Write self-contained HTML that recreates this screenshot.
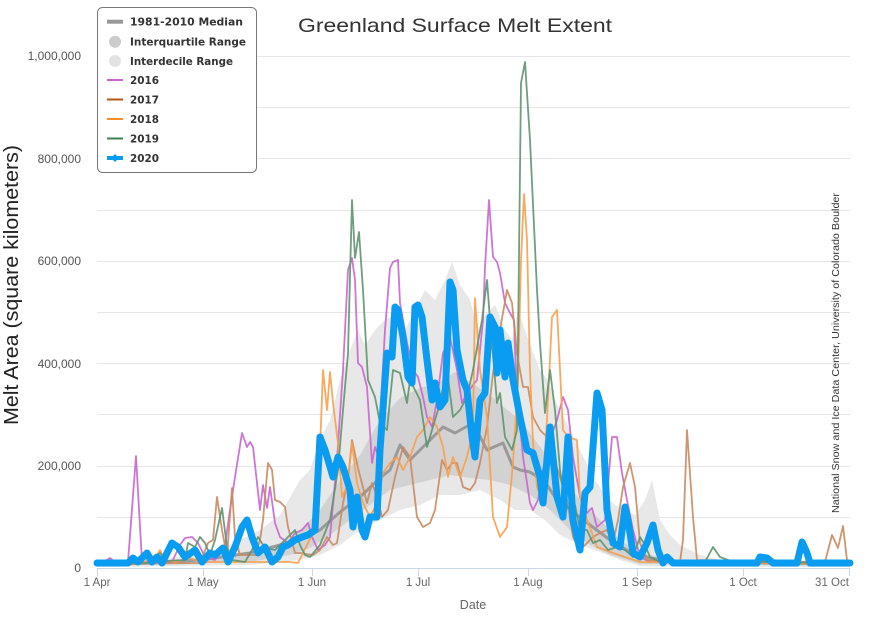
<!DOCTYPE html>
<html><head><meta charset="utf-8"><style>
html,body{margin:0;padding:0;background:#fff;}
svg{display:block;font-family:"Liberation Sans",sans-serif;}
</style></head><body>
<svg width="875" height="627" viewBox="0 0 875 627" xmlns="http://www.w3.org/2000/svg">
<rect width="875" height="627" fill="#fff"/>
<g stroke="#e6e6e6" stroke-width="1">
<line x1="97" x2="850" y1="56.5" y2="56.5"/>
<line x1="97" x2="850" y1="107.5" y2="107.5"/>
<line x1="97" x2="850" y1="158.5" y2="158.5"/>
<line x1="97" x2="850" y1="210.5" y2="210.5"/>
<line x1="97" x2="850" y1="261.5" y2="261.5"/>
<line x1="97" x2="850" y1="312.5" y2="312.5"/>
<line x1="97" x2="850" y1="363.5" y2="363.5"/>
<line x1="97" x2="850" y1="414.5" y2="414.5"/>
<line x1="97" x2="850" y1="466.5" y2="466.5"/>
<line x1="97" x2="850" y1="517.5" y2="517.5"/>
</g>
<polygon fill="#e8e8e8" points="97,563 150,560 200,555 230,545 260,530 280,515 300,480 310,470 320,440 330,420 340,380 350,350 358,330 365,345 375,330 385,320 395,315 405,330 415,310 425,290 435,300 445,280 452,262 460,285 470,300 478,330 485,315 495,305 505,330 512,340 518,310 525,330 532,350 540,370 548,380 555,400 565,420 575,440 585,460 595,480 605,495 615,505 625,510 635,515 645,500 652,480 660,520 670,535 680,545 700,555 720,560 800,562 850,563 850,567 700,567 640,566 620,560 600,552 580,545 560,535 545,520 530,510 515,510 500,500 480,490 460,495 440,495 420,505 400,510 380,520 360,530 340,545 320,555 300,560 250,565 97,567"/>
<polygon fill="#d2d2d2" points="97,565 200,560 250,555 280,545 300,530 320,510 340,480 360,455 380,420 400,398 420,388 440,382 455,372 470,382 490,395 505,408 520,420 535,440 550,460 565,480 580,500 600,520 620,540 640,552 670,560 850,565 850,566 640,564 610,555 590,545 570,530 550,510 530,495 510,485 490,480 470,478 450,475 430,480 410,485 390,490 370,505 350,520 330,535 310,548 290,555 250,562 97,566"/>
<polyline fill="none" stroke="#9a9a9a" stroke-width="3" stroke-linejoin="round" points="97,565 150,563 200,560 250,553 280,545 300,540 320,530 340,512 360,497 380,478 390,470 400,445 410,460 420,450 443,427 455,433 473,423 487,450 503,443 513,467 520,470 530,472 545,482 557,500 570,510 590,525 610,540 630,552 650,558 680,562 850,564"/>
<g fill="none" stroke-width="1.8" stroke-linejoin="round" stroke-opacity="0.9">
<polyline stroke="#c966cf" points="97,563 105,561 110,558 115,562 128,562 136,456 142,562 172,562 180,545 185,538 192,537 198,543 205,557 215,560 225,545 230,510 235,477 242,433 247,447 250,442 253,447 260,510 263,485 267,508 270,487 275,523 280,537 288,543 295,533 302,530 308,523 312,537 318,550 325,545 330,537 337,460 343,370 348,270 352,258 355,280 358,363 362,367 367,387 372,463 375,447 378,455 385,330 390,268 393,262 398,260 400,303 407,343 413,370 418,377 423,397 427,417 432,427 437,400 443,353 450,337 457,370 462,403 467,393 477,380 483,320 485,267 489,200 493,257 497,262 500,273 505,303 510,313 514,320 517,403 520,423 523,457 527,483 530,503 533,510 538,500 543,470 550,440 557,420 563,397 568,410 573,457 580,497 587,513 592,508 597,527 605,520 612,437 617,437 622,473 627,500 633,530 640,557 650,562 700,563 850,563"/>
<polyline stroke="#c98a62" points="97,564 200,563 208,543 213,540 217,497 222,530 227,557 232,488 235,537 240,555 255,555 260,540 263,520 268,463 272,470 275,500 280,502 285,507 288,527 295,553 300,553 313,555 320,550 327,537 333,545 337,543 343,503 348,480 352,440 358,468 367,503 372,483 377,497 382,517 388,510 395,477 403,447 410,457 417,517 423,527 430,523 435,510 442,460 447,470 452,463 457,463 463,487 470,490 475,483 480,463 487,427 493,373 500,330 507,290 512,303 517,353 523,387 528,387 533,417 540,430 547,437 553,455 560,477 567,500 573,537 580,550 587,543 593,537 600,533 607,530 613,543 618,520 623,487 630,463 635,487 640,543 647,560 680,562 683,540 687,430 693,517 697,560 825,562 832,535 838,548 843,526 847,560 850,563"/>
<polyline stroke="#f7a04c" points="97,564 145,562 150,555 155,558 160,550 165,560 175,562 190,558 200,562 290,562 298,563 303,553 308,543 313,533 320,450 323,370 327,410 330,372 333,403 338,443 342,497 347,487 352,443 357,483 363,503 370,517 377,503 383,473 390,463 397,457 403,470 410,457 417,437 423,430 430,417 437,427 443,447 448,477 453,457 460,477 467,457 473,430 475,298 480,370 487,417 493,517 500,537 507,527 513,463 518,380 521,260 524,194 527,240 530,370 533,443 537,487 542,500 547,420 552,317 557,310 560,370 563,430 568,437 577,440 580,497 587,520 597,547 613,553 640,562 850,564"/>
<polyline stroke="#5e9470" points="97,563 150,563 155,557 160,553 165,561 185,560 188,543 195,547 200,537 205,543 210,555 215,540 222,508 227,547 232,560 245,562 252,550 258,537 265,548 275,550 285,540 295,530 300,545 305,555 310,557 320,545 330,520 338,470 343,410 348,353 352,200 355,258 359,232 363,290 368,380 375,397 380,423 387,430 393,370 400,373 407,403 410,380 420,400 427,447 432,430 438,410 447,370 453,417 460,410 467,397 473,370 482,320 487,280 490,320 497,403 500,393 505,437 512,450 517,430 521,83 525,62 530,140 537,290 540,343 545,413 550,370 555,410 560,470 565,503 570,510 575,505 580,530 587,530 593,543 600,540 608,550 617,547 625,550 633,557 640,537 645,545 650,557 660,562 705,562 713,547 720,557 728,560 740,562 850,563"/>
</g>
<polyline fill="none" stroke="#0a9cf0" stroke-width="7" stroke-linejoin="round" stroke-linecap="round" points="97,563 128,563 133,558 138,562 147,553 152,562 157,557 162,563 172,543 178,547 185,557 195,550 202,562 210,553 215,555 223,548 228,562 235,547 242,527 247,520 252,537 258,553 265,547 272,562 278,557 283,547 288,545 295,540 302,537 308,535 315,530 320,437 325,450 328,460 333,477 338,457 343,467 350,490 353,527 357,497 362,530 365,537 370,517 377,517 380,450 387,353 392,357 395,307 398,310 403,337 408,377 412,383 415,307 418,305 422,317 427,360 432,400 435,383 440,407 445,400 450,282 453,290 457,350 463,380 467,390 472,437 475,457 480,400 485,393 490,317 495,327 497,373 500,330 505,377 508,343 513,380 520,417 527,450 533,453 540,477 543,503 550,427 557,497 563,517 568,437 573,520 580,550 585,493 590,487 597,393 602,410 607,510 613,543 620,547 625,507 628,520 633,553 640,557 647,543 653,525 658,550 663,563 667,557 673,563 757,563 760,557 767,558 773,563 797,563 802,542 807,553 810,563 850,563"/>
<line x1="97" x2="850" y1="568.5" y2="568.5" stroke="#ccd6eb" stroke-width="1"/>
<g stroke="#ccd6eb" stroke-width="1">
<line x1="97.5" x2="97.5" y1="568" y2="576"/>
<line x1="203.5" x2="203.5" y1="568" y2="576"/>
<line x1="312.5" x2="312.5" y1="568" y2="576"/>
<line x1="418.5" x2="418.5" y1="568" y2="576"/>
<line x1="528.5" x2="528.5" y1="568" y2="576"/>
<line x1="637.5" x2="637.5" y1="568" y2="576"/>
<line x1="743.5" x2="743.5" y1="568" y2="576"/>
<line x1="849.5" x2="849.5" y1="568" y2="576"/>
</g>
<g fill="#666" font-size="11.5" text-anchor="middle">
<text x="97" y="586">1 Apr</text>
<text x="203" y="586">1 May</text>
<text x="312" y="586">1 Jun</text>
<text x="418" y="586">1 Jul</text>
<text x="528" y="586">1 Aug</text>
<text x="637" y="586">1 Sep</text>
<text x="743" y="586">1 Oct</text>
<text x="832" y="586">31 Oct</text>
</g>
<text x="473" y="609" fill="#666" font-size="12.5" text-anchor="middle">Date</text>
<g fill="#555" font-size="12" text-anchor="end">
<text x="81" y="60">1,000,000</text>
<text x="81" y="163">800,000</text>
<text x="81" y="265">600,000</text>
<text x="81" y="368">400,000</text>
<text x="81" y="470">200,000</text>
<text x="81" y="572">0</text>
</g>
<text transform="translate(18,285) rotate(-90)" fill="#222" font-size="20" text-anchor="middle" textLength="280" lengthAdjust="spacingAndGlyphs">Melt Area (square kilometers)</text>
<text x="455" y="32" fill="#333" font-size="19.5" text-anchor="middle" textLength="314" lengthAdjust="spacingAndGlyphs">Greenland Surface Melt Extent</text>
<text transform="translate(839,353) rotate(-90)" fill="#333" font-size="10" text-anchor="middle" textLength="320" lengthAdjust="spacingAndGlyphs">National Snow and Ice Data Center, University of Colorado Boulder</text>
<rect x="97.5" y="7.5" width="159" height="165" rx="5" fill="#fff" stroke="#777" stroke-width="1"/>
<line x1="107" x2="123" y1="21.7" y2="21.7" stroke="#999" stroke-width="4"/>
<circle cx="115" cy="41.7" r="6" fill="#cccccc"/>
<circle cx="115" cy="61" r="6" fill="#e3e3e3"/>
<line x1="107" x2="123" y1="80" y2="80" stroke="#c966cf" stroke-width="2"/>
<line x1="107" x2="123" y1="99.5" y2="99.5" stroke="#b5561f" stroke-width="2"/>
<line x1="107" x2="123" y1="119" y2="119" stroke="#ff8c26" stroke-width="2"/>
<line x1="107" x2="123" y1="138.5" y2="138.5" stroke="#3f7d50" stroke-width="2"/>
<line x1="107" x2="123" y1="158" y2="158" stroke="#0a9cf0" stroke-width="4"/>
<path d="M115 154 L119 158 L115 162 L111 158 Z" fill="#0a9cf0"/>
<g fill="#333" font-size="11" font-weight="bold" font-family="DejaVu Sans, Liberation Sans, sans-serif">
<text x="130" y="25.5" textLength="113" lengthAdjust="spacingAndGlyphs">1981-2010 Median</text>
<text x="130" y="45.5" textLength="116" lengthAdjust="spacingAndGlyphs">Interquartile Range</text>
<text x="130" y="65" textLength="103" lengthAdjust="spacingAndGlyphs">Interdecile Range</text>
<text x="130" y="84" textLength="29" lengthAdjust="spacingAndGlyphs">2016</text>
<text x="130" y="103.5" textLength="29" lengthAdjust="spacingAndGlyphs">2017</text>
<text x="130" y="123" textLength="29" lengthAdjust="spacingAndGlyphs">2018</text>
<text x="130" y="142.5" textLength="29" lengthAdjust="spacingAndGlyphs">2019</text>
<text x="130" y="162" textLength="29" lengthAdjust="spacingAndGlyphs">2020</text>
</g>
</svg>
</body></html>
